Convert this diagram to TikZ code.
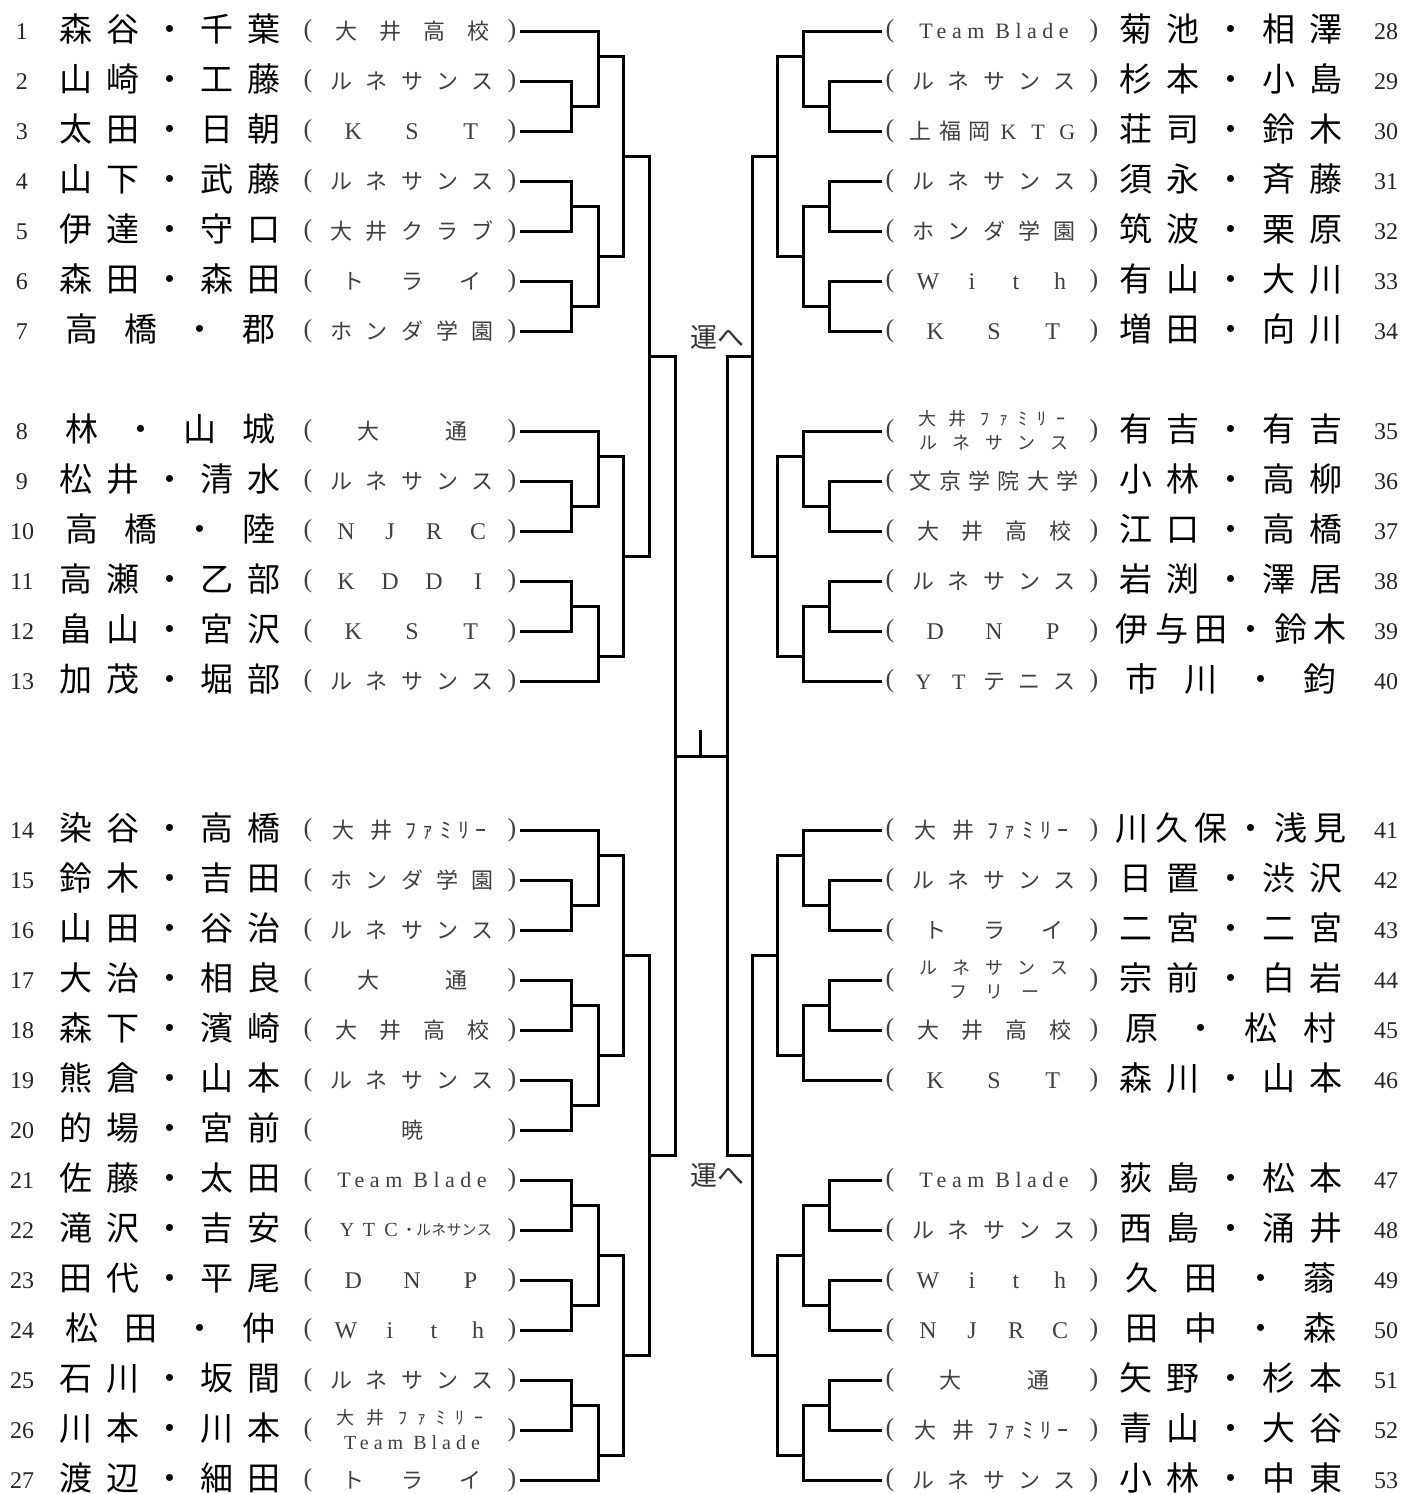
\documentclass[tikz,border=0pt]{standalone}
\usepackage{fontspec}
\setmainfont{Liberation Serif}
\newfontfamily\jp{Noto Sans CJK JP}
\newfontfamily\lat{Liberation Serif}
\newfontfamily\latsp[LetterSpace=25]{Liberation Serif}

\tikzset{
  bk/.style={line width=3pt},
  nm/.style={inner sep=0pt, font=\jp\fontsize{33}{33}\selectfont, text height=29pt, text depth=3.9pt},
  cl/.style={inner sep=0pt, text=black!75, font=\jp\fontsize{22}{22}\selectfont, text height=19.4pt, text depth=2.6pt},
  cls/.style={cl, font=\jp\fontsize{18}{18}\selectfont, text height=15.8pt, text depth=2.2pt},
  clxs/.style={cl, font=\jp\fontsize{15}{15}\selectfont, text height=13.2pt, text depth=1.8pt},
  cll/.style={inner sep=0pt, text=black!75, font=\lat\fontsize{24}{24}\selectfont, text height=16pt, text depth=0pt},
  clls/.style={cll, font=\lat\fontsize{20}{20}\selectfont, text height=13.3pt},
  tb/.style={inner sep=0pt, text=black!75, font=\latsp\fontsize{22}{22}\selectfont, text height=14.6pt, text depth=0pt},
  tbs/.style={tb, font=\latsp\fontsize{20}{20}\selectfont, text height=13.3pt},
  paren/.style={inner sep=0pt, text=black!75, font=\lat\fontsize{26}{26}\selectfont, text height=17.7pt, text depth=4.7pt},
  seed/.style={inner sep=0pt, text=black!85, font=\lat\fontsize{24}{24}\selectfont, text height=16pt, text depth=0pt},
  tolbl/.style={inner sep=0pt, text=black!80, font=\jp\fontsize{27}{27}\selectfont, text height=23.8pt, text depth=3.2pt},
}

% characters spread evenly over a field
\newcommand\spread[6]{%
  \xdef\nsp{0}%
  \foreach \chr in {#6}{\pgfmathtruncatemacro\tmp{\nsp+1}\xdef\nsp{\tmp}}%
  \foreach \chr [count=\kk] in {#6}{%
    \node[#5] (#1-\kk) at ({#2+(#3-#2)*(\kk-0.5)/\nsp},#4) {\chr};}%
}
\newcommand\entL[3]{%
  \node[seed] (n#1) at (22,#2) {#1};
  \spread{p#1}{52}{288}{#2-2}{nm}{#3}
  \node[paren] (o#1) at (308,#2) {(};
  \node[paren] (c#1) at (512,#2) {)};
  \coordinate (r#1) at (520,#2);
}
\newcommand\entR[3]{%
  \node[seed] (n#1) at (1386,#2) {#1};
  \spread{p#1}{1112}{1350}{#2-2}{nm}{#3}
  \node[paren] (o#1) at (890,#2) {(};
  \node[paren] (c#1) at (1094,#2) {)};
  \coordinate (r#1) at (882,#2);
}
\newcommand\clubL[4]{\spread{k#1}{324}{500}{#2}{#3}{#4}}
\newcommand\clubR[4]{\spread{k#1}{906}{1082}{#2}{#3}{#4}}
\newcommand\bjoin[5]{%
  \coordinate (#1) at (#2,#3);
  \draw[bk] (#4) -| (#1) |- (#5);
}

\begin{document}
\begin{tikzpicture}[x=1pt, y=-1pt]
\useasboundingbox (0,0) rectangle (1404,1494);

\entL{1}{31}{森,谷,・,千,葉}     \clubL{1}{31}{cl}{大,井,高,校}
\entL{2}{81}{山,崎,・,工,藤}     \clubL{2}{81}{cl}{ル,ネ,サ,ン,ス}
\entL{3}{131}{太,田,・,日,朝}    \clubL{3}{131}{cll}{K,S,T}
\entL{4}{181}{山,下,・,武,藤}    \clubL{4}{181}{cl}{ル,ネ,サ,ン,ス}
\entL{5}{231}{伊,達,・,守,口}    \clubL{5}{231}{cl}{大,井,ク,ラ,ブ}
\entL{6}{281}{森,田,・,森,田}    \clubL{6}{281}{cl}{ト,ラ,イ}
\entL{7}{331}{高,橋,・,郡}       \clubL{7}{331}{cl}{ホ,ン,ダ,学,園}
\entL{8}{431}{林,・,山,城}       \clubL{8}{431}{cl}{大,通}
\entL{9}{481}{松,井,・,清,水}    \clubL{9}{481}{cl}{ル,ネ,サ,ン,ス}
\entL{10}{531}{高,橋,・,陸}      \clubL{10}{531}{cll}{N,J,R,C}
\entL{11}{581}{高,瀬,・,乙,部}   \clubL{11}{581}{cll}{K,D,D,I}
\entL{12}{631}{畠,山,・,宮,沢}   \clubL{12}{631}{cll}{K,S,T}
\entL{13}{681}{加,茂,・,堀,部}   \clubL{13}{681}{cl}{ル,ネ,サ,ン,ス}
\entL{14}{830}{染,谷,・,高,橋}
\spread{k14a}{324}{400}{830}{cl}{大,井}
\spread{k14b}{402}{490}{830}{cl}{ﾌ,ｧ,ﾐ,ﾘ,ｰ}
\entL{15}{880}{鈴,木,・,吉,田}   \clubL{15}{880}{cl}{ホ,ン,ダ,学,園}
\entL{16}{930}{山,田,・,谷,治}   \clubL{16}{930}{cl}{ル,ネ,サ,ン,ス}
\entL{17}{980}{大,治,・,相,良}   \clubL{17}{980}{cl}{大,通}
\entL{18}{1030}{森,下,・,濱,崎}  \clubL{18}{1030}{cl}{大,井,高,校}
\entL{19}{1080}{熊,倉,・,山,本}  \clubL{19}{1080}{cl}{ル,ネ,サ,ン,ス}
\entL{20}{1130}{的,場,・,宮,前}  \clubL{20}{1130}{cl}{暁}
\entL{21}{1180}{佐,藤,・,太,田}
\node[tb] (k21) at (412,1180) {Team Blade};
\entL{22}{1230}{滝,沢,・,吉,安}
\spread{k22a}{336}{402}{1230}{clls}{Y,T,C}
\node[clxs] (k22b) at (409,1230) {・};
\spread{k22c}{416}{492}{1230}{clxs}{ル,ネ,サ,ン,ス}
\entL{23}{1280}{田,代,・,平,尾}  \clubL{23}{1280}{cll}{D,N,P}
\entL{24}{1330}{松,田,・,仲}     \clubL{24}{1330}{cll}{W,i,t,h}
\entL{25}{1380}{石,川,・,坂,間}  \clubL{25}{1380}{cl}{ル,ネ,サ,ン,ス}
\entL{26}{1430}{川,本,・,川,本}
\spread{k26a}{330}{390}{1418}{cls}{大,井}
\spread{k26b}{394}{488}{1418}{cls}{ﾌ,ｧ,ﾐ,ﾘ,ｰ}
\node[tbs] (k26c) at (412,1443) {Team Blade};
\entL{27}{1480}{渡,辺,・,細,田}  \clubL{27}{1480}{cl}{ト,ラ,イ}

\entR{28}{31}{菊,池,・,相,澤}
\node[tb] (k28) at (994,31) {Team Blade};
\entR{29}{81}{杉,本,・,小,島}    \clubR{29}{81}{cl}{ル,ネ,サ,ン,ス}
\entR{30}{131}{荘,司,・,鈴,木}   \clubR{30}{131}{cl}{上,福,岡,{\lat K},{\lat T},{\lat G}}
\entR{31}{181}{須,永,・,斉,藤}   \clubR{31}{181}{cl}{ル,ネ,サ,ン,ス}
\entR{32}{231}{筑,波,・,栗,原}   \clubR{32}{231}{cl}{ホ,ン,ダ,学,園}
\entR{33}{281}{有,山,・,大,川}   \clubR{33}{281}{cll}{W,i,t,h}
\entR{34}{331}{増,田,・,向,川}   \clubR{34}{331}{cll}{K,S,T}
\entR{35}{431}{有,吉,・,有,吉}
\spread{k35a}{912}{972}{419}{cls}{大,井}
\spread{k35b}{976}{1070}{419}{cls}{ﾌ,ｧ,ﾐ,ﾘ,ｰ}
\spread{k35c}{912}{1076}{443}{cls}{ル,ネ,サ,ン,ス}
\entR{36}{481}{小,林,・,高,柳}   \clubR{36}{481}{cl}{文,京,学,院,大,学}
\entR{37}{531}{江,口,・,高,橋}   \clubR{37}{531}{cl}{大,井,高,校}
\entR{38}{581}{岩,渕,・,澤,居}   \clubR{38}{581}{cl}{ル,ネ,サ,ン,ス}
\entR{39}{631}{伊,与,田,・,鈴,木} \clubR{39}{631}{cll}{D,N,P}
\entR{40}{681}{市,川,・,鈞}      \clubR{40}{681}{cl}{{\lat Y},{\lat T},テ,ニ,ス}
\entR{41}{830}{川,久,保,・,浅,見}
\spread{k41a}{906}{982}{830}{cl}{大,井}
\spread{k41b}{984}{1072}{830}{cl}{ﾌ,ｧ,ﾐ,ﾘ,ｰ}
\entR{42}{880}{日,置,・,渋,沢}   \clubR{42}{880}{cl}{ル,ネ,サ,ン,ス}
\entR{43}{930}{二,宮,・,二,宮}   \clubR{43}{930}{cl}{ト,ラ,イ}
\entR{44}{980}{宗,前,・,白,岩}
\spread{k44a}{912}{1076}{968}{cls}{ル,ネ,サ,ン,ス}
\spread{k44b}{940}{1048}{992}{cls}{フ,リ,ー}
\entR{45}{1030}{原,・,松,村}     \clubR{45}{1030}{cl}{大,井,高,校}
\entR{46}{1080}{森,川,・,山,本}  \clubR{46}{1080}{cll}{K,S,T}
\entR{47}{1180}{荻,島,・,松,本}
\node[tb] (k47) at (994,1180) {Team Blade};
\entR{48}{1230}{西,島,・,涌,井}  \clubR{48}{1230}{cl}{ル,ネ,サ,ン,ス}
\entR{49}{1280}{久,田,・,蓊}     \clubR{49}{1280}{cll}{W,i,t,h}
\entR{50}{1330}{田,中,・,森}     \clubR{50}{1330}{cll}{N,J,R,C}
\entR{51}{1380}{矢,野,・,杉,本}  \clubR{51}{1380}{cl}{大,通}
\entR{52}{1430}{青,山,・,大,谷}
\spread{k52a}{906}{982}{1430}{cl}{大,井}
\spread{k52b}{984}{1072}{1430}{cl}{ﾌ,ｧ,ﾐ,ﾘ,ｰ}
\entR{53}{1480}{小,林,・,中,東}  \clubR{53}{1480}{cl}{ル,ネ,サ,ン,ス}

% left half
\bjoin{a23}{571}{106}{r2}{r3}
\bjoin{a13}{598}{56}{r1}{a23}
\bjoin{a45}{571}{206}{r4}{r5}
\bjoin{a67}{571}{306}{r6}{r7}
\bjoin{a47}{598}{256}{a45}{a67}
\bjoin{a17}{623}{156}{a13}{a47}
\bjoin{a910}{571}{506}{r9}{r10}
\bjoin{a810}{598}{456}{r8}{a910}
\bjoin{a1112}{571}{606}{r11}{r12}
\bjoin{a1113}{598}{656}{a1112}{r13}
\bjoin{a813}{623}{556}{a810}{a1113}
\bjoin{a113}{649}{356}{a17}{a813}
\bjoin{a1516}{571}{905}{r15}{r16}
\bjoin{a1416}{598}{855}{r14}{a1516}
\bjoin{a1718}{571}{1005}{r17}{r18}
\bjoin{a1920}{571}{1105}{r19}{r20}
\bjoin{a1720}{598}{1055}{a1718}{a1920}
\bjoin{a1420}{623}{955}{a1416}{a1720}
\bjoin{a2122}{571}{1205}{r21}{r22}
\bjoin{a2324}{571}{1305}{r23}{r24}
\bjoin{a2124}{598}{1255}{a2122}{a2324}
\bjoin{a2526}{571}{1405}{r25}{r26}
\bjoin{a2527}{598}{1455}{a2526}{r27}
\bjoin{a2127}{623}{1355}{a2124}{a2527}
\bjoin{a1427}{649}{1155}{a1420}{a2127}
\bjoin{aL}{675}{756}{a113}{a1427}

% right half
\bjoin{b2930}{829}{106}{r29}{r30}
\bjoin{b2830}{803}{56}{r28}{b2930}
\bjoin{b3132}{829}{206}{r31}{r32}
\bjoin{b3334}{829}{306}{r33}{r34}
\bjoin{b3134}{803}{256}{b3132}{b3334}
\bjoin{b2834}{777}{156}{b2830}{b3134}
\bjoin{b3637}{829}{506}{r36}{r37}
\bjoin{b3537}{803}{456}{r35}{b3637}
\bjoin{b3839}{829}{606}{r38}{r39}
\bjoin{b3840}{803}{656}{b3839}{r40}
\bjoin{b3540}{777}{556}{b3537}{b3840}
\bjoin{b2840}{752}{356}{b2834}{b3540}
\bjoin{b4243}{829}{905}{r42}{r43}
\bjoin{b4143}{803}{855}{r41}{b4243}
\bjoin{b4445}{829}{1005}{r44}{r45}
\bjoin{b4446}{803}{1055}{b4445}{r46}
\bjoin{b4146}{777}{955}{b4143}{b4446}
\bjoin{b4748}{829}{1205}{r47}{r48}
\bjoin{b4950}{829}{1305}{r49}{r50}
\bjoin{b4750}{803}{1255}{b4748}{b4950}
\bjoin{b5152}{829}{1405}{r51}{r52}
\bjoin{b5153}{803}{1455}{b5152}{r53}
\bjoin{b4753}{777}{1355}{b4750}{b5153}
\bjoin{b4153}{752}{1155}{b4146}{b4753}
\bjoin{bR}{727}{756}{b2840}{b4153}

% final
\draw[bk] (aL) -- (bR);
\coordinate (tk) at (700,730);
\draw[bk] (tk) -- (tk |- aL);
\node[tolbl] (go1) at (717,337) {運へ};
\node[tolbl] (go2) at (717,1175) {運へ};
\end{tikzpicture}
\end{document}
